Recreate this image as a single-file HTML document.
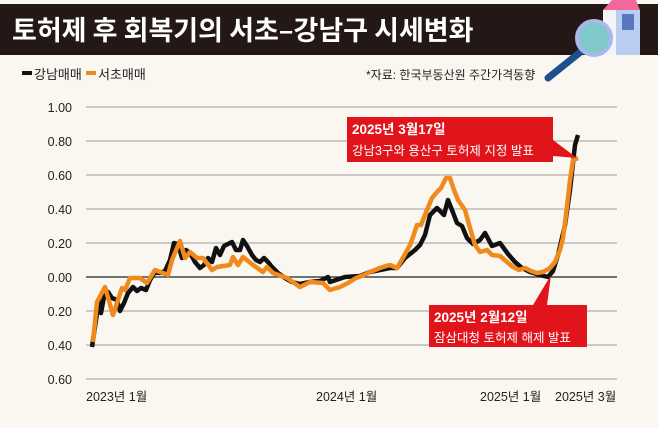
<!DOCTYPE html>
<html><head><meta charset="utf-8"><style>
body{margin:0;background:#f9f7f0;}
svg{display:block;font-family:"Liberation Sans","Noto Sans CJK KR",sans-serif;}
</style></head><body>
<svg width="658" height="428" viewBox="0 0 658 428">
<rect width="658" height="428" fill="#f9f7f0"/>
<rect x="0" y="4" width="658" height="51" fill="#231815"/>
<text x="12" y="40" font-size="27" font-weight="bold" fill="#fff" font-family="Noto Sans CJK KR,sans-serif">토허제 후 회복기의 서초–강남구 시세변화</text>
<polygon points="603,10 612,0 636,0 640,10" fill="#f0699a"/>
<rect x="603" y="10" width="37" height="45" fill="#b9cdf2"/>
<rect x="603" y="10" width="13" height="45" fill="#f4f4f8"/>
<rect x="622" y="14" width="12" height="16" fill="#5a78c0"/>
<line x1="583" y1="50" x2="548" y2="78" stroke="#1e4e8c" stroke-width="7" stroke-linecap="round"/>
<circle cx="594" cy="38" r="17" fill="#7fc9c9" stroke="#a8b8ee" stroke-width="4"/>
<rect x="22" y="71" width="10" height="4" fill="#111"/>
<text x="34" y="79" font-size="13" fill="#222">강남매매</text>
<rect x="86" y="71" width="10" height="4" fill="#f08a1c"/>
<text x="98" y="79" font-size="13" fill="#222">서초매매</text>
<text x="366" y="79" font-size="12" fill="#222">*자료: 한국부동산원 주간가격동향</text>
<g stroke="#bdbbb5" stroke-width="1.5">
<line x1="86" x2="617" y1="107" y2="107"/><line x1="86" x2="617" y1="141" y2="141"/>
<line x1="86" x2="617" y1="175" y2="175"/><line x1="86" x2="617" y1="209" y2="209"/>
<line x1="86" x2="617" y1="243" y2="243"/><line x1="86" x2="617" y1="311" y2="311"/>
<line x1="86" x2="617" y1="345" y2="345"/><line x1="86" x2="617" y1="379" y2="379"/>
</g>
<line x1="86" x2="617" y1="277" y2="277" stroke="#222" stroke-width="1.3"/>
<g font-size="12.5" fill="#222" text-anchor="end">
<text x="72" y="112">1.00</text><text x="72" y="146">0.80</text><text x="72" y="180">0.60</text>
<text x="72" y="214">0.40</text><text x="72" y="248">0.20</text><text x="72" y="282">0.00</text>
<text x="72" y="316">0.20</text><text x="72" y="350">0.40</text><text x="72" y="384">0.60</text>
</g>
<g font-size="12.5" fill="#222">
<text x="86" y="401">2023년 1월</text><text x="316" y="401">2024년 1월</text>
<text x="480" y="401">2025년 1월</text><text x="555" y="401">2025년 3월</text>
</g>
<polyline fill="none" stroke="#111" stroke-width="4.5" stroke-linejoin="round" points="92,347 96,320 99,300 101,313 104,297 108,292 112,298 117,300 120,311 124,303 128,293 133,287 137,291 141,288 146,290 150,280 155,272 160,273 165,271 170,260 174,243 178,244 182,258 186,250 190,253 195,262 200,268 204,265 208,258 212,262 216,248 220,255 224,246 228,244 232,242 236,250 240,250 243,240 247,246 252,255 256,260 260,262 264,258 268,262 272,267 278,273 285,278 292,282 300,284 310,282 320,281 328,277 330,282 345,277 360,276 370,272 380,270 390,268 397,268 405,258 415,250 420,245 425,235 430,215 437,208 444,215 448,200 452,210 457,223 462,226 467,238 473,244 480,240 485,233 492,246 500,243 508,254 515,262 522,268 530,272 540,275 548,277 553,271 558,255 565,225 570,190 575,145 578,135"/>
<polyline fill="none" stroke="#f08a1c" stroke-width="4.5" stroke-linejoin="round" points="93,342 97,302 105,287 113,315 122,288 125,290 130,278 140,278 147,283 155,270 168,275 172,260 180,241 185,258 190,252 197,258 203,258 212,270 217,267 230,265 233,257 238,265 243,257 253,265 263,272 267,267 273,273 287,278 300,287 310,282 323,283 330,290 340,287 348,283 356,278 364,275 370,272 380,268 386,266 390,265 397,268 404,256 410,245 413,237 417,225 421,225 427,210 432,198 437,192 441,188 446,178 450,178 454,190 458,200 465,210 470,228 475,245 480,252 487,250 492,255 500,256 507,262 513,267 519,270 525,268 531,271 537,273 543,272 550,268 555,262 560,250 563,238 566,215 570,180 573,160 578,158"/>
<polygon points="553,140 553,156 577,158" fill="#e1141b"/>
<rect x="347" y="117" width="206" height="45" fill="#e1141b"/>
<text x="352" y="134" font-size="13.5" font-weight="bold" fill="#fff">2025년 3월17일</text>
<text x="352" y="155" font-size="12.5" fill="#fff">강남3구와 용산구 토허제 지정 발표</text>
<polygon points="533,305 547,305 551,275" fill="#e1141b"/>
<rect x="429" y="305" width="158" height="42" fill="#e1141b"/>
<text x="434" y="322" font-size="13.5" font-weight="bold" fill="#fff">2025년 2월12일</text>
<text x="434" y="342" font-size="12.5" fill="#fff">잠삼대청 토허제 해제 발표</text>
</svg>
</body></html>
